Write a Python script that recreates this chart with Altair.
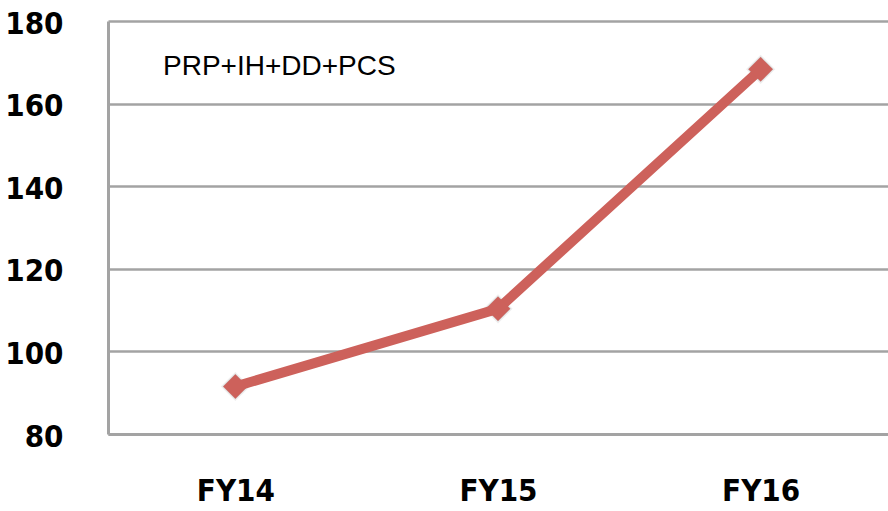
import altair as alt
import pandas as pd

# Yearly totals for the combined PRP+IH+DD+PCS series
years = ["FY14", "FY15", "FY16"]
totals = [91.5, 110.3, 168.3]

series_label = ["PRP+IH+DD+PCS"]

df = pd.DataFrame({"year": years, "total": totals})

LINE_COLOR = "#CD615B"
GRID_COLOR = "#A3A3A3"
TICK_FONT = "DejaVu Sans Condensed, Liberation Sans, sans-serif"

x = alt.X(
    "year:N",
    sort=years,
    scale=alt.Scale(type="point", padding=0.485),
    axis=alt.Axis(
        title=None,
        labelAngle=0,
        labelFont=TICK_FONT,
        labelFontSize=31,
        labelFontWeight="bold",
        labelColor="#000000",
        labelPadding=42,
        labelBaseline="top",
        ticks=False,
        grid=False,
        domainColor=GRID_COLOR,
        domainWidth=3,
    ),
)
y = alt.Y(
    "total:Q",
    scale=alt.Scale(domain=[80, 180], nice=False, zero=False),
    axis=alt.Axis(
        title=None,
        values=[80, 100, 120, 140, 160, 180],
        labelFont=TICK_FONT,
        labelFontSize=31,
        labelFontWeight="bold",
        labelColor="#000000",
        labelPadding=45,
        labelOffset=3,
        ticks=False,
        gridColor=GRID_COLOR,
        gridWidth=2.5,
        domainColor=GRID_COLOR,
        domainWidth=3,
    ),
)

base = alt.Chart(df).encode(x=x, y=y)

# soft drop shadow under each marker
shadow_outer = base.mark_point(
    shape="diamond", size=850, filled=True, color="#8a8a8a", opacity=0.15, dx=2, dy=3
)
shadow = base.mark_point(
    shape="diamond", size=650, filled=True, color="#7a7a7a", opacity=0.3, dx=2, dy=3
)
line = base.mark_line(color=LINE_COLOR, strokeWidth=10)
points = base.mark_point(shape="diamond", size=600, filled=True, color=LINE_COLOR, opacity=1)

label = alt.Chart(pd.DataFrame({"name": series_label})).mark_text(
    font="Liberation Sans", fontSize=28, align="left", baseline="alphabetic", color="#000000"
).encode(x=alt.value(55), y=alt.value(54), text="name:N")

chart = (
    alt.layer(shadow_outer, shadow, line, points, label)
    .properties(
        width=780,
        height=413,
        padding={"left": 108, "top": 21, "right": 0, "bottom": 77},
        autosize=alt.AutoSizeParams(type="none"),
        background="#FFFFFF",
    )
    .configure_view(stroke=None)
)

chart.save("out.html", embed_options={"renderer": "svg", "actions": False})
